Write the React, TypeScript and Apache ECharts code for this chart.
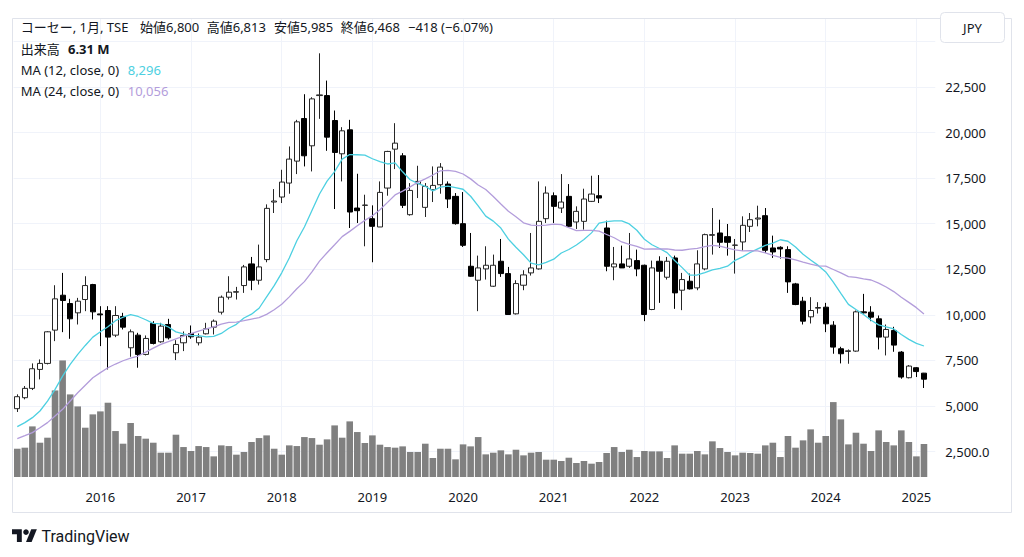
import React, { useEffect, useRef } from "react";
import * as echarts from "echarts";

// ---------- data (monthly, Feb 2015 .. Feb 2025) ----------
const START_YEAR = 2015;
const START_MONTH = 2;
const N = 121;
const months: string[] = [];
for (let i = 0; i < N; i++) {
  const m = START_MONTH - 1 + i;
  const y = START_YEAR + Math.floor(m / 12);
  const mm = (m % 12) + 1;
  months.push(`${y}-${String(mm).padStart(2, "0")}`);
}
const categories = [...months, ""];

const opens = [
  4851, 5453, 5965, 7005, 7334, 9160, 11077, 10621, 10110, 10840, 11662, 10050,
  10237, 8886, 9909, 8192, 8886, 7827, 9525, 8521, 9470, 7918, 8466, 8977,
  8466, 8959, 9324, 10146, 10968, 11242, 11607, 12794, 11899, 13031, 16190, 16464,
  17231, 18436, 20773, 19276, 22033, 22033, 20664, 18838, 20153, 15861, 16007, 15277,
  14821, 16957, 19093, 18728, 15496, 17194, 15898, 16866, 17140, 17176, 16501, 15003,
  12666, 11899, 12520, 11570, 12940, 12264, 10055, 11625, 12301, 12520, 15277, 16537,
  15861, 16501, 15095, 15131, 16227, 16537, 14766, 12630, 12794, 12666, 12976, 12721,
  10292, 12940, 12063, 13122, 11351, 11844, 11479, 12520, 14364, 14492, 14291, 13816,
  13999, 14857, 15259, 15442, 13670, 13707, 13579, 11698, 10749, 9890, 10365, 10420,
  9434, 8138, 7991, 8010, 10164, 10146, 9781, 8777, 9142, 7955, 6549, 7097, 6800,
];
const highs = [
  5636, 6092, 7334, 7553, 9105, 11625, 12301, 10877, 10931, 12118, 11700, 10475,
  10475, 10475, 10110, 9197, 9014, 8868, 9653, 9562, 9781, 8612, 9087, 9416,
  8977, 9562, 9744, 11059, 12118, 11534, 12739, 13177, 13853, 16062, 16902, 17961,
  19240, 20700, 22107, 21942, 24352, 22855, 21212, 20299, 20700, 17742, 16592, 16008,
  17322, 19002, 20518, 18874, 17231, 18180, 17231, 18144, 18327, 17322, 16683, 16738,
  14492, 13250, 13762, 13305, 14163, 12630, 11899, 12447, 14492, 17322, 17048, 16720,
  17724, 17176, 15953, 16921, 17633, 17669, 15168, 13725, 13798, 14492, 13579, 12757,
  12976, 13214, 13177, 13250, 12301, 12264, 13542, 14456, 15861, 15222, 14985, 14163,
  15405, 15588, 15989, 15861, 14346, 13762, 13762, 11753, 10986, 10968, 10694, 10657,
  9653, 8247, 8101, 10237, 11150, 10475, 9963, 9470, 9343, 8010, 7243, 7133, 6813,
];
const lows = [
  4668, 5362, 5873, 6458, 7279, 8557, 9050, 8685, 9470, 10201, 9744, 8284,
  7005, 8777, 9197, 7699, 7097, 7772, 8375, 8466, 8649, 7517, 8010, 8685,
  8320, 8923, 8923, 10018, 10840, 10840, 11205, 11351, 11662, 12885, 15588, 16135,
  16647, 17724, 18144, 17870, 20755, 19002, 15807, 17322, 14766, 15040, 13762, 12885,
  14821, 16537, 17998, 15861, 15442, 16409, 15369, 16190, 16647, 15861, 14948, 13725,
  12082, 10201, 11936, 11534, 12082, 10000, 10018, 11351, 12155, 12483, 15040, 15040,
  15588, 14821, 14711, 14675, 16190, 16135, 12392, 11899, 12575, 12575, 12118, 9653,
  10256, 10657, 11936, 10329, 10256, 11388, 11351, 12447, 13305, 13670, 13250, 12264,
  13524, 14547, 14857, 13396, 13122, 13086, 11205, 10530, 9470, 9525, 10073, 9050,
  7864, 7334, 7316, 7973, 10073, 9653, 8101, 7772, 7973, 6494, 6512, 6585, 5985,
];
const closes = [
  5508, 5965, 7042, 7334, 9069, 10877, 10785, 9781, 10749, 11607, 10164, 10000,
  8777, 9963, 9324, 9069, 7827, 8704, 8430, 9379, 8740, 8375, 8868, 8795,
  8777, 9233, 9653, 10968, 11242, 11270, 12630, 11899, 12630, 15843, 16245, 17286,
  18546, 20591, 18728, 21851, 22070, 19751, 18911, 20098, 15642, 15715, 16025, 14857,
  16720, 18966, 19422, 16008, 16829, 17322, 17048, 17103, 18107, 16355, 15003, 13816,
  12118, 12575, 12721, 12721, 12264, 10018, 11716, 12191, 12575, 15131, 16683, 15953,
  16190, 14857, 15679, 16355, 16628, 16409, 12666, 12794, 12575, 13068, 12520, 10018,
  12575, 12392, 12940, 11205, 11936, 11424, 12794, 14401, 14401, 13981, 13981, 13830,
  14912, 15222, 15313, 13542, 13451, 13615, 11808, 10566, 9653, 10237, 10402, 9507,
  8229, 7864, 8028, 10164, 10110, 9872, 8777, 9197, 8338, 6585, 7188, 6886, 6468,
];
// volume, millions of shares
const volumes = [
  5.41, 5.61, 9.68, 6.56, 7.52, 16.56, 22.3, 15.8, 13.5, 9.43, 11.98, 12.55,
  14.21, 8.79, 6.37, 10.32, 7.84, 7.33, 6.56, 4.65, 4.65, 8.09, 5.73, 4.97,
  5.92, 5.73, 3.95, 6.05, 5.92, 4.27, 4.78, 6.69, 7.45, 7.96, 5.41, 4.27,
  6.05, 5.92, 7.64, 7.45, 6.18, 7.2, 9.87, 7.52, 10.64, 8.6, 6.5, 7.96,
  6.18, 5.73, 5.61, 5.86, 4.78, 4.78, 6.37, 3.63, 5.41, 5.41, 3.38, 6.24,
  5.86, 7.64, 4.33, 4.65, 5.1, 4.33, 5.22, 4.14, 4.65, 4.78, 3.31, 3.31,
  3.06, 3.69, 2.68, 3.06, 2.55, 2.87, 4.59, 5.73, 4.78, 5.22, 3.82, 4.97,
  4.9, 4.9, 3.63, 6.05, 4.46, 4.46, 4.97, 4.33, 6.82, 5.54, 4.78, 4.14,
  4.65, 4.59, 4.46, 6.05, 6.56, 3.82, 7.84, 5.61, 7.01, 9.11, 6.56, 7.84,
  14.33, 11.02, 6.24, 8.47, 6.37, 4.97, 8.92, 6.69, 6.05, 8.92, 6.69, 3.95, 6.31,
];
const ma12Early = [3865, 4084, 4358, 4723, 5270, 5910, 6640, 7279, 7827, 8320, 8777];
const ma24Early = [
  3207, 3370, 3536, 3800, 4084, 4450, 4814, 5270, 5727, 6140, 6549, 6830,
  7097, 7300, 7480, 7620, 7740, 7950, 8170, 8375, 8530, 8680, 8830,
];

const yearTickLabels = ["2016", "2017", "2018", "2019", "2020", "2021", "2022", "2023", "2024", "2025"];
const priceTicks = [2500, 5000, 7500, 10000, 12500, 15000, 17500, 20000, 22500, 25000];
const priceTickLabels = ["2,500.0", "5,000", "7,500", "10,000", "12,500", "15,000", "17,500", "20,000", "22,500", ""];

const titleParts = [
  { x: 20.7, text: "コーセー, 1月, TSE" },
  { x: 140, text: "始値6,800" },
  { x: 206.7, text: "高値6,813" },
  { x: 274, text: "安値5,985" },
  { x: 340.7, text: "終値6,468" },
  { x: 408, text: "−418 (−6.07%)" },
];
const volumeLabel = "出来高";
const volumeValue = "6.31 M";
const ma12Label = "MA (12, close, 0)";
const ma12Value = "8,296";
const ma24Label = "MA (24, close, 0)";
const ma24Value = "10,056";

const FONT = "'Noto Sans', 'Noto Sans CJK JP', sans-serif";
const TXT = "#131722";
const GRID = "#f0f3fa";
const CYAN = "#4dd0e1";
const PURPLE = "#b39ddb";

function sma(values: number[], n: number, early: number[]): number[] {
  return values.map((_, i) => {
    if (i < n - 1) return early[i];
    let s = 0;
    for (let k = i - n + 1; k <= i; k++) s += values[k];
    return Math.round(s / n);
  });
}

export default function App() {
  const ref = useRef<HTMLDivElement>(null);

  useEffect(() => {
    document.body.style.margin = "0";
    if (!ref.current) return;
    const chart = echarts.init(ref.current, undefined, { renderer: "svg" });

    const ma12 = sma(closes, 12, ma12Early);
    const ma24 = sma(closes, 24, ma24Early);
    const candleData = opens.map((o, i) => [o, closes[i], lows[i], highs[i]]);
    const yearGridLines = months
      .filter((m) => m.endsWith("-01") && yearTickLabels.includes(m.slice(0, 4)))
      .map((m) => ({ xAxis: m }));

    const text = (x: number, y: number, t: string, extra: any = {}) => ({
      type: "text",
      x,
      y,
      silent: true,
      z: 100,
      style: {
        text: t,
        fill: TXT,
        fontSize: 13,
        fontFamily: FONT,
        textAlign: "left",
        textVerticalAlign: "middle",
        align: "left",
        verticalAlign: "middle",
        ...extra,
      },
    });

    const LX = 12, LY = 526.5, LS = 0.7;
    const pt = (u: number, v: number) => [LX + u * LS, LY + v * LS];

    chart.setOption({
      animation: false,
      backgroundColor: "#ffffff",
      grid: [
        { left: 13.5, right: 88.7, top: 41.5, bottom: 105.5, outerBoundsMode: "none" },
        { left: 13.5, right: 88.7, top: 18, bottom: 80, outerBoundsMode: "none" },
      ],
      xAxis: [
        {
          type: "category",
          gridIndex: 0,
          data: categories,
          boundaryGap: true,
          axisLine: { show: false },
          axisTick: { show: false },
          axisLabel: { show: false },
          splitLine: { show: false },
        },
        {
          type: "category",
          gridIndex: 1,
          data: categories,
          boundaryGap: true,
          axisLine: { show: false },
          axisTick: { show: false },
          splitLine: { show: false },
          axisLabel: {
            interval: (_: number, v: string) => v.endsWith("-01") && yearTickLabels.includes(v.slice(0, 4)),
            formatter: (v: string) => v.slice(0, 4),
            color: TXT,
            fontSize: 13,
            fontFamily: FONT,
            margin: 13,
          },
        },
      ],
      yAxis: [
        {
          type: "value",
          gridIndex: 0,
          position: "right",
          min: 2500,
          max: 25000,
          interval: 2500,
          axisLine: { show: false },
          axisTick: { show: false },
          splitLine: { show: true, lineStyle: { color: GRID, width: 1 } },
          axisLabel: {
            color: TXT,
            fontSize: 13,
            fontFamily: FONT,
            margin: 10,
            formatter: (v: number) => {
              const k = priceTicks.indexOf(v);
              return k >= 0 ? priceTickLabels[k] : "";
            },
          },
        },
        {
          type: "value",
          gridIndex: 1,
          min: 0,
          max: 87.8,
          show: false,
          splitLine: { show: false },
        },
      ],
      series: [
        {
          name: "volume",
          type: "bar",
          xAxisIndex: 1,
          yAxisIndex: 1,
          data: volumes,
          barWidth: 6.6,
          itemStyle: { color: "#808080" },
          z: 2,
          silent: true,
          markLine: {
            silent: true,
            symbol: "none",
            z: 1,
            label: { show: false },
            lineStyle: { color: GRID, width: 1, type: "solid" },
            data: yearGridLines,
          },
        },
        {
          name: "price",
          type: "candlestick",
          xAxisIndex: 0,
          yAxisIndex: 0,
          data: candleData,
          barWidth: 5.6,
          z: 3,
          itemStyle: {
            color: "#ffffff",
            color0: "#000000",
            borderColor: "#262626",
            borderColor0: "#000000",
            borderWidth: 1,
          },
        },
        {
          name: "MA12",
          type: "line",
          xAxisIndex: 0,
          yAxisIndex: 0,
          data: ma12,
          symbol: "none",
          showSymbol: false,
          z: 4,
          lineStyle: { color: CYAN, width: 1.3 },
        },
        {
          name: "MA24",
          type: "line",
          xAxisIndex: 0,
          yAxisIndex: 0,
          data: ma24,
          symbol: "none",
          showSymbol: false,
          z: 4,
          lineStyle: { color: PURPLE, width: 1.3 },
        },
      ],
      graphic: [
        {
          type: "rect",
          silent: true,
          z: 90,
          shape: { x: 12.5, y: 18.5, width: 999, height: 494 },
          style: { fill: "none", stroke: "#e0e3eb", lineWidth: 1 },
        },
        {
          type: "rect",
          silent: true,
          z: 95,
          shape: { x: 940.5, y: 12.5, width: 64, height: 30, r: 4 },
          style: { fill: "#ffffff", stroke: "#e0e3eb", lineWidth: 1 },
        },
        text(972.5, 27.5, "JPY", { textAlign: "center", align: "center" }),
        ...titleParts.map((p) => text(p.x, 27, p.text)),
        text(20.7, 48.5, volumeLabel),
        text(68, 48.5, volumeValue, { fontWeight: "bold" }),
        text(20.7, 70, ma12Label),
        text(127.7, 70, ma12Value, { fill: CYAN }),
        text(20.7, 91, ma24Label),
        text(127.7, 91, ma24Value, { fill: PURPLE }),
        {
          type: "polygon",
          silent: true,
          z: 100,
          shape: { points: [pt(14, 22), pt(7, 22), pt(7, 11), pt(0, 11), pt(0, 4), pt(14, 4)] },
          style: { fill: TXT },
        },
        {
          type: "polygon",
          silent: true,
          z: 100,
          shape: { points: [pt(28, 22), pt(20, 22), pt(27.5, 4), pt(35.5, 4)] },
          style: { fill: TXT },
        },
        {
          type: "circle",
          silent: true,
          z: 100,
          shape: { cx: LX + 20 * LS, cy: LY + 8 * LS, r: 4 * LS },
          style: { fill: TXT },
        },
        text(41.5, 536, "TradingView", { fontSize: 16, fontFamily: "Roboto, 'Noto Sans', sans-serif" }),
      ],
    });

    return () => {
      chart.dispose();
    };
  }, []);

  return <div ref={ref} style={{ width: 1024, height: 557 }} />;
}
